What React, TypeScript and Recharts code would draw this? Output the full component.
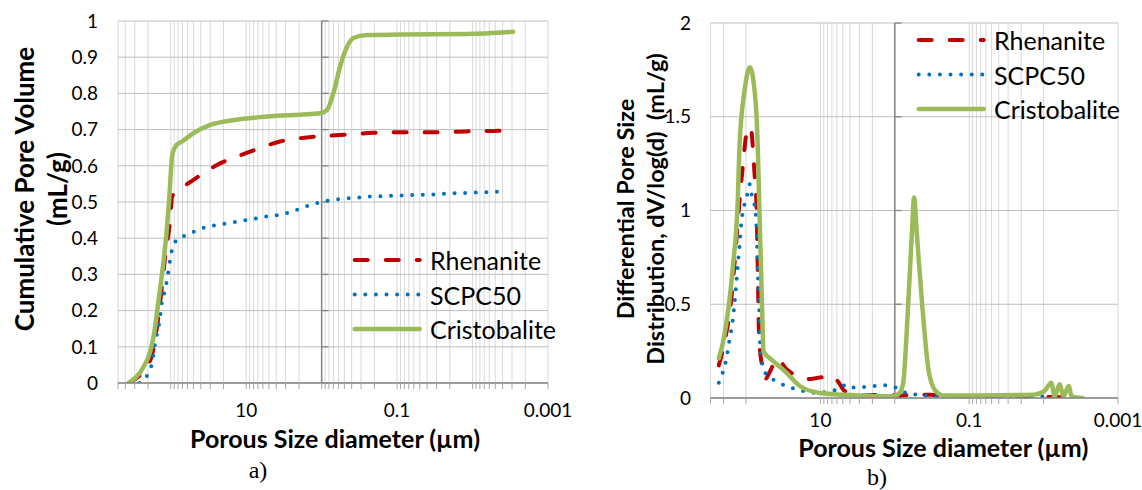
import React from 'react';
import { LineChart, Line, XAxis, YAxis, CartesianGrid, ReferenceLine, Legend, Label } from 'recharts';

const RED = '#C00000';
const BLUE = '#0070C0';
const GREEN = '#9BBB59';
const FONT = 'Lato, "Open Sans", sans-serif';

// ---------- a) cumulative pore volume (diameter in µm, volume in mL/g)
const cumRhenaniteDiam = [362, 311, 187, 152, 134, 118, 102, 96, 83, 50, 24.4, 8.85, 3.55, 1.28, 0.57, 0.206, 0.074, 0.03, 0.012, 0.0035];
const cumRhenaniteVol = [0, 0.008, 0.063, 0.155, 0.247, 0.353, 0.45, 0.515, 0.528, 0.561, 0.602, 0.639, 0.667, 0.68, 0.685, 0.691, 0.693, 0.693, 0.695, 0.697];

const cumScpcDiam = [261, 197, 177, 160, 150, 141, 131, 121, 112, 107, 102, 96, 83, 62, 47, 35, 25.7, 18.4, 13.6, 9.8, 7.2, 5.3, 3.85, 2.84, 2.03, 1.5, 1.1, 0.81, 0.44, 0.228, 0.124, 0.064, 0.033, 0.018, 0.0093, 0.0048, 0.0035];
const cumScpcVol = [0, 0.028, 0.055, 0.114, 0.142, 0.169, 0.225, 0.252, 0.285, 0.312, 0.34, 0.369, 0.395, 0.409, 0.42, 0.43, 0.436, 0.441, 0.445, 0.45, 0.455, 0.46, 0.464, 0.47, 0.48, 0.49, 0.498, 0.504, 0.51, 0.515, 0.517, 0.519, 0.521, 0.524, 0.526, 0.528, 0.531];

const cumCristoDiam = [362, 229, 187, 166, 145, 127, 114, 105, 96, 87, 71, 58.6, 50, 30, 14.9, 5.3, 1.05, 0.85, 0.7, 0.57, 0.46, 0.38, 0.25, 0.091, 0.012, 0.0029];
const cumCristoVol = [0, 0.045, 0.087, 0.137, 0.229, 0.321, 0.413, 0.506, 0.625, 0.653, 0.667, 0.68, 0.69, 0.713, 0.726, 0.736, 0.745, 0.754, 0.8, 0.874, 0.929, 0.953, 0.961, 0.963, 0.964, 0.97];

// ---------- b) differential pore size distribution dV/log(d) (mL/g)
const difRhenaniteDiam = [232, 198, 160, 136, 122, 110, 98.8, 87, 77, 71.7, 69.5, 66.6, 61, 55, 46.9, 37.9, 29, 21, 13.7, 10, 7.3, 5.9, 4.7, 2.78, 1.32, 0.86, 0.505, 0.33, 0.215, 0.05, 0.01, 0.003];
const difRhenaniteVal = [0.174, 0.284, 0.505, 0.817, 1.056, 1.241, 1.406, 1.445, 1.204, 0.983, 0.689, 0.321, 0.174, 0.101, 0.147, 0.211, 0.156, 0.119, 0.101, 0.11, 0.119, 0.092, 0.037, 0.013, 0.018, 0.013, 0.018, 0.018, 0.009, 0.006, 0.005, 0.0];

const difScpcDiam = [232, 208, 187, 168, 151, 136, 129, 122, 116, 104, 98.8, 88.8, 82.4, 75.7, 71.7, 69.5, 66.6, 64.5, 61, 52, 40, 29, 21, 15.3, 11.1, 8.1, 5.9, 4.3, 3.44, 2.5, 1.82, 1.32, 0.96, 0.7, 0.53, 0.39, 0.1, 0.01, 0.003];
const difScpcVal = [0.082, 0.128, 0.193, 0.303, 0.413, 0.597, 0.707, 0.817, 0.927, 1.038, 1.066, 1.14, 1.061, 1.019, 0.872, 0.689, 0.505, 0.284, 0.193, 0.119, 0.092, 0.064, 0.046, 0.033, 0.027, 0.033, 0.046, 0.073, 0.055, 0.059, 0.064, 0.068, 0.055, 0.027, 0.018, 0.013, 0.01, 0.008, 0.005];

const difCristoDiam = [232, 198, 151, 129, 122, 104, 88.8, 74, 68, 66.6, 61, 58, 44.4, 29, 18.9, 10, 3.09, 1.06, 0.86, 0.77, 0.66, 0.59, 0.55, 0.505, 0.43, 0.348, 0.28, 0.215, 0.0135, 0.0098, 0.0079, 0.0071, 0.0061, 0.0054, 0.0046, 0.0042, 0.003];
const difCristoVal = [0.211, 0.321, 0.689, 1.056, 1.351, 1.645, 1.764, 1.572, 1.204, 1.056, 0.505, 0.248, 0.202, 0.137, 0.064, 0.027, 0.014, 0.009, 0.027, 0.082, 0.505, 0.872, 1.07, 0.872, 0.505, 0.137, 0.036, 0.013, 0.018, 0.036, 0.082, 0.009, 0.073, 0.009, 0.064, 0.009, 0.0];

// ---------- axes
const leftXTicks = [500, 400, 300, 200, 100, 90, 80, 70, 60, 50, 40, 30, 20, 10, 9, 8, 7, 6, 5, 4, 3, 2, 1, 0.9, 0.8, 0.7, 0.6, 0.5, 0.4, 0.3, 0.2, 0.1, 0.09, 0.08, 0.07, 0.06, 0.05, 0.04, 0.03, 0.02, 0.01, 0.009, 0.008, 0.007, 0.006, 0.005, 0.004, 0.003, 0.002, 0.001];
const rightXTicks = [300, 200, 100, 10, 9, 8, 7, 6, 5, 4, 3, 2, 1, 0.1, 0.09, 0.08, 0.07, 0.06, 0.05, 0.04, 0.03, 0.02, 0.01, 0.001];
const xLabelTicks = [10, 0.1, 0.001];
const leftYTicks = [0, 0.1, 0.2, 0.3, 0.4, 0.5, 0.6, 0.7, 0.8, 0.9, 1];
const rightYTicks = [0, 0.5, 1, 1.5, 2];

const seriesNames = ['Rhenanite', 'SCPC50', 'Cristobalite'];

const zip = (d: number[], v: number[]) => d.map((x, i) => ({ d: x, v: v[i] }));

const styles = [
  { name: seriesNames[0], color: RED, dash: '13 18', width: 4 },
  { name: seriesNames[1], color: BLUE, dash: '0 10.6', width: 4 },
  { name: seriesNames[2], color: GREEN, dash: undefined as string | undefined, width: 4.5 },
];

const fmtX = (v: number) => (xLabelTicks.some((l) => Math.abs(v - l) < l * 1e-6) ? String(v) : '');

function LegendBox() {
  const rows = [17, 51.5, 86];
  return (
    <svg width={210} height={104} style={{ display: 'block', overflow: 'visible' }}>
      {styles.map((s, i) => (
        <g key={s.name}>
          <line x1={4.7} x2={69.7} y1={rows[i]} y2={rows[i]} stroke={s.color} strokeWidth={s.width} strokeDasharray={s.dash} strokeLinecap="round" />
          <text x={80} y={rows[i]} dominantBaseline="central" fontFamily={FONT} fontSize={25} fill="#000">{s.name}</text>
        </g>
      ))}
    </svg>
  );
}

const tickStyle = { fontSize: 19, fill: '#000', fontFamily: FONT };

function makeXLabel(title: string, dx: number, dy: number, caption: string, capX: number, capY: number) {
  return (props: any) => {
    const vb = props.viewBox || { x: 0, y: 0, width: 0, height: 0 };
    const cx = vb.x + vb.width / 2 + dx;
    return (
      <g>
        <text x={cx} y={vb.y + dy} textAnchor="middle" dominantBaseline="central" fontFamily={FONT} fontSize={25} fontWeight={700} fill="#000">{title}</text>
        <text x={capX} y={capY} textAnchor="middle" dominantBaseline="central" fontFamily='"Liberation Serif", serif' fontSize={24} fill="#000">{caption}</text>
      </g>
    );
  };
}

function makeYLabel(lines: string[], xs: number[], cy: number, size: number) {
  return () => (
    <g>
      {lines.map((t, i) => (
        <text key={i} x={xs[i]} y={cy} transform={`rotate(-90 ${xs[i]} ${cy})`} textAnchor="middle" dominantBaseline="central" style={{ whiteSpace: 'pre' }} fontFamily={FONT} fontSize={size} fontWeight={700} fill="#000">{t}</text>
      ))}
    </g>
  );
}

function Panel(props: {
  width: number; height: number; margin: any; xDomain: number[]; xTicks: number[]; yDomain: number[]; yTicks: number[];
  series: { d: number; v: number }[][]; xTitle: any; yTitle: any; legendPos: { left: number; top: number }; yTickMargin: number; xTickMargin: number;
}) {
  const { width, height, margin, xDomain, xTicks, yDomain, yTicks, series, xTitle, yTitle, legendPos, yTickMargin, xTickMargin } = props;
  return (
    <LineChart width={width} height={height} margin={margin} style={{ fontFamily: FONT }}>
      <CartesianGrid horizontal={false} vertical stroke="#D9D9D9" strokeWidth={1} />
      <CartesianGrid horizontal vertical={false} stroke="#BFBFBF" strokeWidth={1} />
      <XAxis
        type="number"
        dataKey="d"
        scale="log"
        domain={xDomain}
        reversed
        allowDataOverflow
        ticks={xTicks}
        interval={0}
        tickFormatter={fmtX}
        tick={tickStyle}
        tickSize={6}
        tickMargin={xTickMargin}
        height={60}
        axisLine={{ stroke: '#868686', strokeWidth: 1.3 }}
        tickLine={{ stroke: '#A6A6A6' }}
      >
        <Label content={xTitle} />
      </XAxis>
      <YAxis
        type="number"
        domain={yDomain}
        ticks={yTicks}
        interval={0}
        allowDataOverflow
        width={60}
        axisLine={false}
        tickLine={false}
        tick={tickStyle}
        tickMargin={yTickMargin}
        tickFormatter={(v: number) => String(v)}
      >
        <Label content={yTitle} />
      </YAxis>
      <ReferenceLine x={1} stroke="#868686" strokeWidth={1.5} />
      {yTicks.map((t) => (
        <ReferenceLine key={t} segment={[{ x: 1, y: t }, { x: 0.81, y: t }]} stroke="#868686" strokeWidth={1.3} />
      ))}
      {series.map((data, i) => (
        <Line
          key={styles[i].name}
          name={styles[i].name}
          data={data}
          dataKey="v"
          type="monotone"
          stroke={styles[i].color}
          strokeWidth={styles[i].width}
          strokeDasharray={styles[i].dash}
          strokeLinecap="round"
          strokeLinejoin="round"
          dot={false}
          activeDot={false}
          isAnimationActive={false}
        />
      ))}
      <Legend
        layout="vertical"
        align="center"
        verticalAlign="middle"
        content={() => <LegendBox />}
        wrapperStyle={{ left: legendPos.left, top: legendPos.top, width: 210, height: 104 }}
      />
    </LineChart>
  );
}

export default function App() {
  const cum = [zip(cumRhenaniteDiam, cumRhenaniteVol), zip(cumScpcDiam, cumScpcVol), zip(cumCristoDiam, cumCristoVol)];
  const dif = [zip(difRhenaniteDiam, difRhenaniteVal), zip(difScpcDiam, difScpcVal), zip(difCristoDiam, difCristoVal)];
  return (
    <div style={{ position: 'absolute', left: 0, top: 0, width: 1142, height: 490, background: '#fff', overflow: 'hidden' }}>
      <div style={{ position: 'absolute', left: 0, top: 0 }}>
        <Panel
          width={590}
          height={490}
          margin={{ top: 21, right: 42, bottom: 47, left: 58 }}
          xDomain={[0.001, 500]}
          xTicks={leftXTicks}
          yDomain={[0, 1]}
          yTicks={leftYTicks}
          series={cum}
          xTitle={makeXLabel('Porous Size diameter (µm)', 2, 55, 'a)', 258, 470)}
          yTitle={makeYLabel(['Cumulative Pore Volume', '(mL/g)'], [24, 57], 189, 26)}
          legendPos={{ left: 350, top: 243 }}
          yTickMargin={14}
          xTickMargin={15}
        />
      </div>
      <div style={{ position: 'absolute', left: 600, top: 0 }}>
        <Panel
          width={542}
          height={490}
          margin={{ top: 23, right: 24, bottom: 32, left: 50.5 }}
          xDomain={[0.001, 300]}
          xTicks={rightXTicks}
          yDomain={[0, 2]}
          yTicks={rightYTicks}
          series={dif}
          xTitle={makeXLabel('Porous Size diameter (µm)', 29, 48.5, 'b)', 277, 477)}
          yTitle={makeYLabel(['Differential Pore Size', 'Distribution, dV/log(d)  (mL/g)'], [25, 55], 209, 23.5)}
          legendPos={{ left: 314, top: 23 }}
          yTickMargin={13.5}
          xTickMargin={10}
        />
      </div>
    </div>
  );
}
